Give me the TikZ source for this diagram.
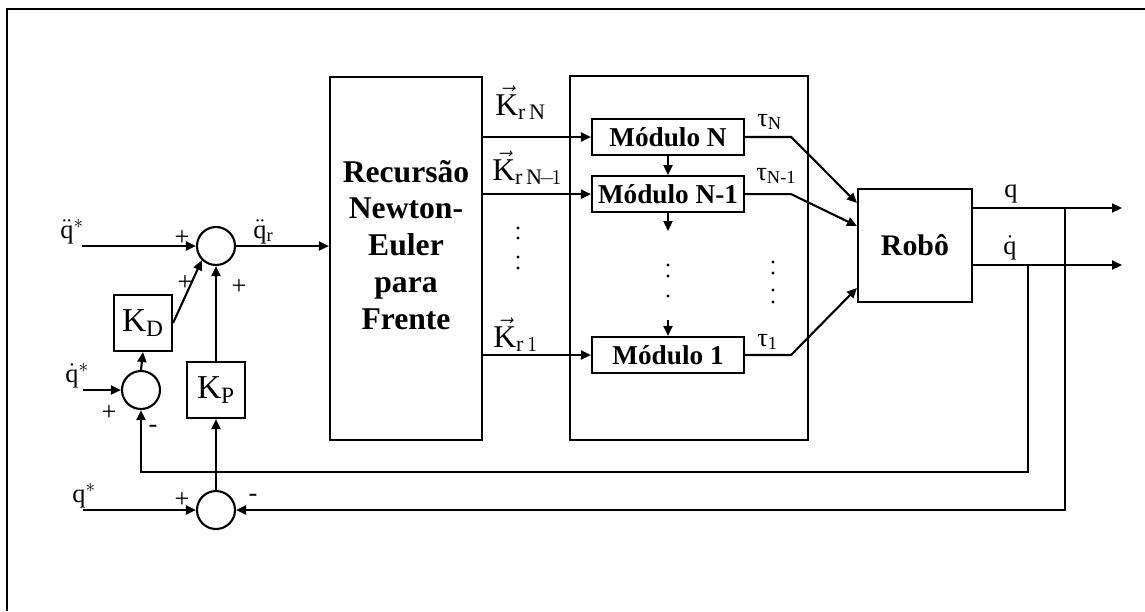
\documentclass[tikz,border=0pt]{standalone}
\usepackage{fontspec}
\setmainfont{Liberation Serif}
\usetikzlibrary{positioning,arrows.meta}
\tikzset{
  blk/.style    ={draw, line width=1.2pt, inner sep=0pt, align=center},
  sumnode/.style={circle, draw, line width=1.2pt, minimum size=7.6mm, inner sep=0pt},
  modbox/.style ={blk, minimum width=30.4mm, minimum height=7.2mm,
                  font=\fontsize{15.5}{18}\selectfont\bfseries},
  gain/.style   ={blk, minimum width=11.6mm, minimum height=11.2mm,
                  font=\fontsize{19}{22}\selectfont},
  arr/.style    ={-{Triangle[length=2mm,width=1.8mm]}, line width=1.2pt},
  wire/.style   ={line width=1.2pt},
  sig/.style    ={font=\fontsize{15}{18}\selectfont, inner sep=0pt, anchor=base west},
  kvec/.style   ={font=\fontsize{18}{21}\selectfont, inner sep=0pt, anchor=base west},
  tau/.style    ={font=\fontsize{15}{18}\selectfont, inner sep=0pt, anchor=base west},
  sgn/.style    ={font=\fontsize{15}{18}\selectfont, inner sep=0pt},
}

\begin{document}
\begin{tikzpicture}[x=0.2mm, y=-0.2mm]
  \useasboundingbox (0,0) rectangle (1145,611);
  \draw[wire] (7,611) -- (7,9) -- (1145,9);

  % summing junctions and gains
  \node[sumnode] (sumA) at (216,246) {};
  \node[sumnode] (sumB) at (141,390) {};
  \node[sumnode] (sumC) at (216,510) {};
  \node[gain] (kd) at (143,323) {K\textsubscript{D}};
  \node[gain] (kp) at (216,390) {K\textsubscript{P}};

  % forward recursion and modules
  \node[blk, minimum width=30.4mm, minimum height=72.6mm] (rne) at (406,258.5) {};
  \node[font=\fontsize{18}{21}\selectfont\bfseries, align=center] (rnetxt) at (406,245)
        {Recursão\\Newton-\\Euler\\para\\Frente};
  \node[blk, minimum width=47.6mm, minimum height=72.8mm] (grp) at (689,258) {};
  \node[modbox] (modN) at (668,137) {Módulo N};
  \node[modbox, below=3.8mm of modN] (modN1) {Módulo N-1};
  \node[modbox] (mod1) at (668,355) {Módulo 1};
  \node[blk, minimum width=22.8mm, minimum height=22.6mm,
        font=\fontsize{17}{20}\selectfont\bfseries] (robo) at (915,245.5) {Robô};

  \coordinate (inqdd) at (82,246);
  \coordinate (inqd) at (83,390);
  \coordinate (inq) at (83,510);
  \coordinate (qout) at (1122,208);
  \coordinate (qdout) at (1122,265);
  \coordinate (tapq) at (1065,208);
  \coordinate (tapqd) at (1028,265);
  \coordinate (fbturn) at (1028,472);
  \coordinate (dnend) at (668,231);
  \coordinate (upstart) at (668,320);

  % connectors
  \draw[arr] (inqdd) -- (sumA.west);
  \draw[arr] (inqd) -- (sumB.west);
  \draw[arr] (inq) -- (sumC.west);
  \draw[arr] (sumA.east) -- (sumA -| rne.west);
  \draw[arr] (sumB.north) -- (kd.south);
  \draw[arr] (kd.east) -- (sumA.south west);
  \draw[arr] (kp.north) -- (sumA.south);
  \draw[arr] (sumC.north) -- (kp.south);
  \draw[arr] (rne.east |- modN) -- (modN.west);
  \draw[arr] (rne.east |- modN1) -- (modN1.west);
  \draw[arr] (rne.east |- mod1) -- (mod1.west);
  \draw[arr] (modN.south) -- (modN1.north);
  \draw[arr] (modN1.south) -- (dnend);
  \draw[arr] (upstart) -- (mod1.north);
  \draw[arr] (modN.east) -- ++(46,0) -- ([yshift=8.5mm]robo.west);
  \draw[arr] (modN1.east) -- ++(46,0) -- ([yshift=3.9mm]robo.west);
  \draw[arr] (mod1.east) -- ++(46,0) -- ([yshift=-8.5mm]robo.west);
  \draw[arr] (robo.east |- qout) -- (qout);
  \draw[arr] (robo.east |- qdout) -- (qdout);
  \draw[arr] (tapq) |- (sumC.east);
  \draw[arr] (tapqd) -- (fbturn) -| (sumB.south);

  % dots
  \foreach \y in {228,238,257,268} \fill (518,\y) circle (0.9pt);
  \foreach \y in {265,276,296} \fill (668,\y) circle (0.9pt);
  \foreach \y in {262,273,290,302} \fill (773,\y) circle (0.9pt);

  % labels
  \node[sig] (lqdd) at (60,238) {$\ddot{\mathrm{q}}^{*}$};
  \node[sig] (lqd) at (65,382) {$\dot{\mathrm{q}}^{*}$};
  \node[sig] (lq) at (72,502) {$\mathrm{q}^{*}$};
  \node[sig] (lqddr) at (253,238) {$\ddot{\mathrm{q}}_{\mathrm{r}}$};
  \node[kvec] (lKN) at (495,115) {$\vec{\mathrm{K}}_{\mathrm{r}\,\mathrm{N}}$};
  \node[kvec] (lKN1) at (492,180) {$\vec{\mathrm{K}}_{\mathrm{r}\,\mathrm{N}\!-\!1}$};
  \node[kvec] (lK1) at (493,347) {$\vec{\mathrm{K}}_{\mathrm{r}\,1}$};
  \node[tau] (ltN) at (757,126) {τ\textsubscript{N}};
  \node[tau] (ltN1) at (756,180) {τ\textsubscript{N-1}};
  \node[tau] (lt1) at (757,346) {τ\textsubscript{1}};
  \node[sig] (lqo) at (1004,197) {q};
  \node[sig] (lqdo) at (1003,254) {$\dot{\mathrm{q}}$};

  \node[sgn] (sA1) at (182,238) {+};
  \node[sgn] (sA2) at (185,283) {+};
  \node[sgn] (sA3) at (239,287) {+};
  \node[sgn] (sB1) at (109,413) {+};
  \node[sgn] (sB2) at (153,429) {-};
  \node[sgn] (sC1) at (182,500) {+};
  \node[sgn] (sC2) at (253,498) {-};
\end{tikzpicture}
\end{document}
